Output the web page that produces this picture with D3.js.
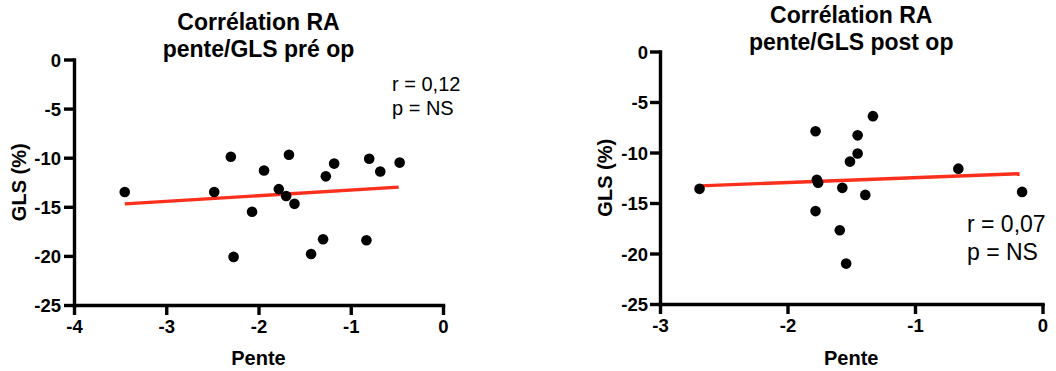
<!DOCTYPE html>
<html>
<head>
<meta charset="utf-8">
<script src="https://cdn.jsdelivr.net/npm/d3@7"></script>
<style>
  html, body { margin: 0; padding: 0; background: #fff; }
  svg { display: block; font-family: "Liberation Sans", Arial, Helvetica, sans-serif; }
</style>
</head>
<body>
<svg id="chart" width="1056" height="371"></svg>
<script>
// Pre-op: slope (pente) vs GLS (%)
const preX = [-3.45, -2.48, -2.30, -2.27, -2.07, -1.94, -1.78, -1.70, -1.67, -1.61, -1.43, -1.30, -1.27, -1.18, -0.83, -0.80, -0.68, -0.47];
const preY = [-13.5, -13.5, -9.9, -20.1, -15.5, -11.3, -13.2, -13.9, -9.7, -14.7, -19.8, -18.3, -11.9, -10.6, -18.4, -10.1, -11.4, -10.5];
const preFitX = [-3.45, -0.48];
const preFitY = [-14.7, -13.0];

// Post-op: slope (pente) vs GLS (%)
const postX = [-2.69, -1.78, -1.77, -1.76, -1.78, -1.59, -1.57, -1.54, -1.51, -1.45, -1.45, -1.39, -1.33, -0.66, -0.16];
const postY = [-13.6, -7.9, -12.7, -13.0, -15.8, -17.7, -13.5, -21.0, -10.9, -10.1, -8.3, -14.2, -6.4, -11.6, -13.9];
const postFitX = [-2.69, -0.18];
const postFitY = [-13.3, -12.1];

const yTicks = [0, -5, -10, -15, -20, -25];
const preXTicks = [-4, -3, -2, -1, 0];
const postXTicks = [-3, -2, -1, 0];

const svg = d3.select("#chart");
// plain hyphen-minus for negative tick labels
const fmt = d => String(d);

function panel(cfg) {
  const x = d3.scaleLinear().domain(cfg.xDomain).range([cfg.left, cfg.right]);
  const y = d3.scaleLinear().domain([-25, 0]).range([cfg.bottom, cfg.top]);
  const g = svg.append("g");

  // y axis
  const ya = g.append("g")
    .attr("transform", `translate(${cfg.left},0)`)
    .call(d3.axisLeft(y).tickValues(yTicks).tickFormat(fmt).tickSize(10).tickSizeOuter(0).tickPadding(cfg.yPad));
  // x axis
  const xa = g.append("g")
    .attr("transform", `translate(0,${cfg.bottom})`)
    .call(d3.axisBottom(x).tickValues(cfg.xTicks).tickFormat(fmt).tickSize(10).tickSizeOuter(0).tickPadding(5));

  [ya, xa].forEach(a => {
    a.select(".domain").attr("stroke", "#000").attr("stroke-width", 3.4).attr("stroke-linecap", "square");
    a.selectAll(".tick line").attr("stroke", "#000").attr("stroke-width", 3.4);
    a.selectAll(".tick text").attr("fill", "#000").attr("font-size", 18.5).attr("font-weight", "bold")
      .attr("font-family", "Liberation Sans, Arial, sans-serif");
  });
  ya.selectAll(".tick text").attr("dy", "0.36em");
  xa.selectAll(".tick text").attr("dy", "0.71em");

  // regression line
  g.append("line")
    .attr("x1", x(cfg.fitX[0])).attr("y1", y(cfg.fitY[0]))
    .attr("x2", x(cfg.fitX[1])).attr("y2", y(cfg.fitY[1]))
    .attr("stroke", "#fb2f1c").attr("stroke-width", 3.4);

  // points
  g.append("g").selectAll("circle")
    .data(cfg.xs.map((v, i) => [v, cfg.ys[i]]))
    .join("circle")
    .attr("cx", d => x(d[0])).attr("cy", d => y(d[1]))
    .attr("r", 5.3).attr("fill", "#000");

  // title
  const t = g.append("text").attr("text-anchor", "middle").attr("font-weight", "bold")
    .attr("font-size", 23).attr("fill", "#000");
  t.append("tspan").attr("x", (cfg.left + cfg.right) / 2).attr("y", cfg.titleY).text("Corrélation RA");
  t.append("tspan").attr("x", (cfg.left + cfg.right) / 2).attr("y", cfg.titleY + 27).text(cfg.title2);

  // axis titles
  g.append("text").attr("text-anchor", "middle").attr("font-weight", "bold").attr("font-size", 20)
    .attr("x", (cfg.left + cfg.right) / 2).attr("y", 365).text("Pente");
  g.append("text").attr("text-anchor", "middle").attr("font-weight", "bold").attr("font-size", 20)
    .attr("transform", `translate(${cfg.yLabelX},${(cfg.top + cfg.bottom) / 2}) rotate(-90)`)
    .attr("dy", "0.36em").text("GLS (%)");

  // statistics
  const s = g.append("text").attr("font-size", cfg.statSize).attr("fill", "#000");
  s.append("tspan").attr("x", cfg.statX).attr("y", cfg.statY).text(cfg.r);
  s.append("tspan").attr("x", cfg.statX).attr("y", cfg.statY + cfg.statGap).text("p = NS");
}

panel({
  xDomain: [-4, 0], xTicks: preXTicks, left: 74, right: 443, top: 59.5, bottom: 305,
  xs: preX, ys: preY, fitX: preFitX, fitY: preFitY,
  title2: "pente/GLS pré op", titleY: 30, yLabelX: 19, yPad: 3,
  r: "r = 0,12", statX: 392, statY: 91, statSize: 20, statGap: 24
});

panel({
  xDomain: [-3, 0], xTicks: postXTicks, left: 660, right: 1042.5, top: 51.5, bottom: 304,
  xs: postX, ys: postY, fitX: postFitX, fitY: postFitY,
  title2: "pente/GLS post op", titleY: 22.5, yLabelX: 605, yPad: 2,
  r: "r = 0,07", statX: 967, statY: 232, statSize: 23, statGap: 28
});
</script>
</body>
</html>
